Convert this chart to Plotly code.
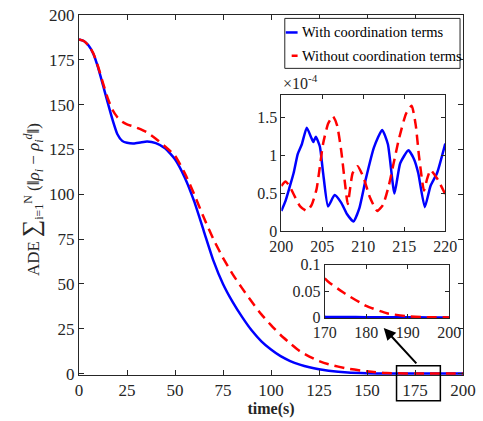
import plotly.graph_objects as go

# ---------------- data ----------------
t_main = [0, 2.5, 5, 7.5, 10, 12.5, 15, 17.5, 20, 22.5, 25, 28.5, 32, 35.5, 40, 45, 50, 55,
          60, 65, 70, 75, 80, 85, 90, 95, 100, 105, 110, 115, 120, 125, 130, 140, 150, 160,
          170, 175, 180, 185, 190, 195, 200]
with_coord = [186.3, 185.5, 183, 178.3, 170.5, 160.8, 151, 141.5, 133.5, 129.8, 128.7, 128.3,
              128.9, 129.4, 128.5, 125.5, 119.5, 109.5, 96, 79.5, 63, 50, 40, 31.5, 24, 18,
              13.4, 9.7, 7, 5, 3.5, 2.4, 1.6, 0.6, 0.2, 0.03, 0.0015, 0.001, 0.0005,
              0.0003, 0.0002, 0.0001, 0.0001]
without_coord = [186.3, 185.5, 183, 178.5, 171, 162, 153.5, 147, 143, 140.5, 139, 137.8,
                 136.3, 134.5, 131, 126.5, 121.5, 112, 100, 87, 75, 64.5, 55.5, 47.5, 40, 33,
                 27, 21.5, 16.8, 12.5, 9.5, 7, 5.2, 2.7, 1.25, 0.3, 0.075, 0.045, 0.022, 0.008,
                 0.002, 0.0005, 0.0001]

# inset 1 (values in units of 1e-4)
t_in1_blue = [200, 200.5, 201, 201.5, 202, 202.5, 203.1, 203.6, 203.9, 204.2, 204.7, 205.1,
              205.7, 206.5, 207.3, 208, 208.8, 209.5, 210.3, 211.3, 212.3, 213, 213.8, 214.5,
              215.5, 216.2, 216.7, 217.5, 218.2, 219, 220]
blue_in1 = [0.27, 0.4, 0.58, 0.77, 1.02, 1.15, 1.37, 1.25, 1.18, 1.25, 1.12, 0.77,
            0.33, 0.48, 0.38, 0.23, 0.13, 0.3, 0.69, 1.11, 1.34, 1.15, 0.5, 0.9,
            1.07, 0.95, 0.77, 0.32, 0.6, 0.77, 1.16]
t_in1_red = [200, 200.5, 201, 201.5, 202.3, 203.1, 203.7, 204.3, 205.1, 205.7, 206.3, 206.8,
             207.3, 207.8, 208.1, 208.7, 209.3, 210, 210.8, 211.7, 212.4, 213.1, 214.3, 215.2,
             215.9, 216.4, 216.8, 217.4, 217.8, 218.2, 219, 220]
red_in1 = [0.6, 0.66, 0.6, 0.49, 0.33, 0.27, 0.35, 0.56, 1.16, 1.42, 1.52, 1.4,
           1.07, 0.6, 0.36, 0.77, 0.86, 0.72, 0.45, 0.27, 0.35, 0.6, 1.2, 1.55,
           1.66, 1.4, 0.99, 0.54, 0.7, 0.81, 0.7, 0.49]

main_ticks = [0, 25, 50, 75, 100, 125, 150, 175, 200]
in1_xticks = [200, 205, 210, 215, 220]
in1_yticks = [0, 0.5, 1, 1.5]
in2_xticks = [170, 180, 190, 200]
in2_yticks = [0, 0.05, 0.1]
legend_labels = ["With coordination terms", "Without coordination terms"]

# ---------------- layout helpers ----------------
W, H = 483, 421
L, R, T, B = 79, 469, 7, 378


def px(x):
    return (x - L) / (R - L)


def py(y):
    return (B - y) / (B - T)


FONT = "Liberation Serif"
BLUE = "#0000FF"
RED = "#FF0000"
DASH = "10px,6px"
AX = "#262626"

fig = go.Figure()

# main traces
fig.add_trace(go.Scatter(x=t_main, y=with_coord, mode="lines", name=legend_labels[0],
                         line=dict(color=BLUE, width=2.5, shape="spline", smoothing=0.5),
                         xaxis="x", yaxis="y", showlegend=False))
fig.add_trace(go.Scatter(x=t_main, y=without_coord, mode="lines", name=legend_labels[1],
                         line=dict(color=RED, width=2.5, dash=DASH, shape="spline", smoothing=0.5),
                         xaxis="x", yaxis="y", showlegend=False))
# inset 1
fig.add_trace(go.Scatter(x=t_in1_blue, y=blue_in1, mode="lines",
                         line=dict(color=BLUE, width=2.5, shape="spline", smoothing=0.5),
                         xaxis="x2", yaxis="y2", showlegend=False))
fig.add_trace(go.Scatter(x=t_in1_red, y=red_in1, mode="lines",
                         line=dict(color=RED, width=2.5, dash=DASH, shape="spline", smoothing=0.5),
                         xaxis="x2", yaxis="y2", showlegend=False))
# inset 2 (zoom of main)
fig.add_trace(go.Scatter(x=t_main, y=with_coord, mode="lines",
                         line=dict(color=BLUE, width=2.5, shape="spline", smoothing=0.5),
                         xaxis="x3", yaxis="y3", showlegend=False))
fig.add_trace(go.Scatter(x=t_main, y=without_coord, mode="lines",
                         line=dict(color=RED, width=2.5, dash=DASH, shape="spline", smoothing=0.5),
                         xaxis="x3", yaxis="y3", showlegend=False))

axis_common = dict(showgrid=False, zeroline=False, showline=True, mirror="ticks",
                   ticks="inside", ticklen=5, tickcolor=AX, linecolor=AX, linewidth=1,
                   tickfont=dict(family=FONT, size=17, color=AX))
inset_common = dict(showgrid=False, zeroline=False, showline=True, mirror="ticks",
                    ticks="inside", ticklen=4, tickcolor=AX, linecolor=AX, linewidth=1,
                    tickfont=dict(family=FONT, size=16, color=AX))

fig.update_layout(
    width=W, height=H,
    margin=dict(l=L, r=W - R, t=T, b=H - B, pad=0),
    paper_bgcolor="white", plot_bgcolor="white",
    showlegend=False,
    font=dict(family=FONT, color=AX),
    xaxis=dict(**axis_common, range=[0, 200], tickvals=main_ticks, domain=[0, 1], anchor="y",
               title=dict(text="<b>time(s)</b>", font=dict(family=FONT, size=16, color=AX), standoff=2)),
    yaxis=dict(**axis_common, range=[-0.8, 200], tickvals=main_ticks, domain=[0, 1], anchor="x"),
    xaxis2=dict(**inset_common, range=[200, 220], tickvals=in1_xticks, anchor="y2",
                domain=[px(284.5), px(451)]),
    yaxis2=dict(**inset_common, range=[0, 1.8], tickvals=in1_yticks, anchor="x2",
                domain=[py(230), py(89.5)]),
    xaxis3=dict(**inset_common, range=[170, 200], tickvals=in2_xticks, anchor="y3",
                domain=[px(328.5), px(455)]),
    yaxis3=dict(**inset_common, range=[-0.0015, 0.1], tickvals=in2_yticks, anchor="x3",
                domain=[py(319.5), py(264.5)]),
)

shapes = [
    # legend box
    dict(type="rect", xref="paper", yref="paper", x0=px(288), x1=px(466), y0=py(62), y1=py(10.5),
         line=dict(color=AX, width=1), fillcolor="white", layer="above"),
    dict(type="line", xref="paper", yref="paper", x0=px(289), x1=px(301), y0=py(25), y1=py(25),
         line=dict(color=BLUE, width=2.5)),
    dict(type="line", xref="paper", yref="paper", x0=px(295), x1=px(301), y0=py(49), y1=py(49),
         line=dict(color=RED, width=2.5)),
    # zoom rectangle
    dict(type="rect", xref="paper", yref="paper", x0=px(401.5), x1=px(446), y0=py(404.5), y1=py(368.5),
         line=dict(color="black", width=1.5)),
]
fig.update_layout(shapes=shapes)

annotations = [
    dict(text=legend_labels[0], xref="paper", yref="paper", x=px(303), y=py(25), xanchor="left",
         yanchor="middle", showarrow=False, font=dict(family=FONT, size=14.5, color="black")),
    dict(text=legend_labels[1], xref="paper", yref="paper", x=px(303), y=py(49), xanchor="left",
         yanchor="middle", showarrow=False, font=dict(family=FONT, size=14.5, color="black")),
    dict(text="×10<sup>-4</sup>", xref="paper", yref="paper", x=px(284), y=py(88), xanchor="left",
         yanchor="bottom", showarrow=False, font=dict(family=FONT, size=16, color=AX)),
    # arrow
    dict(text="", xref="paper", yref="paper", x=px(388.5), y=py(329.5), ax=34, ay=37,
         showarrow=True, arrowhead=2, arrowsize=1.2, arrowwidth=2, arrowcolor="black"),
    # y label
    dict(text="ADE <span style='font-size:24px'>∑</span><sub>i=1</sub><sup>N</sup> (‖<i>ρ<sub>i</sub></i> − <i>ρ</i><sub><i>i</i></sub><sup><i>d</i></sup>‖)",
         xref="paper", yref="paper", x=px(32), y=py(197), textangle=-90, xanchor="center",
         yanchor="middle", showarrow=False, font=dict(family=FONT, size=17, color=AX)),
]
fig.update_layout(annotations=annotations)

fig.write_html("out.html")
